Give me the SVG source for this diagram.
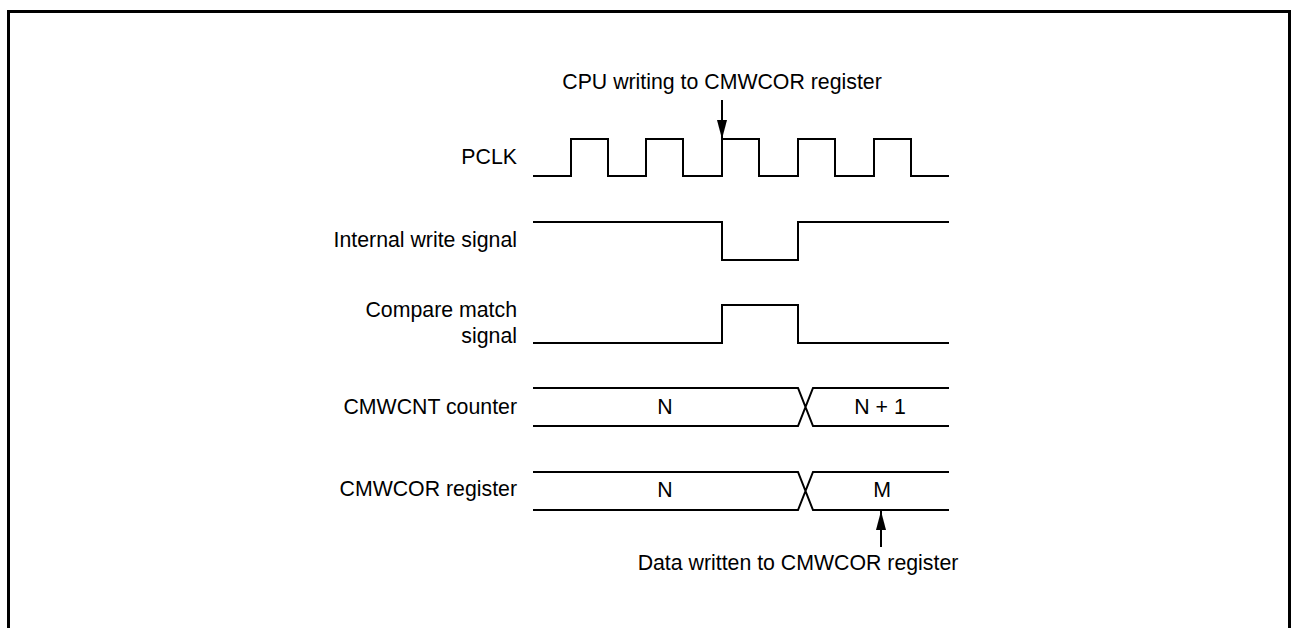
<svg xmlns="http://www.w3.org/2000/svg" width="1291" height="628" viewBox="0 0 1291 628">
<style>
.w{fill:none;stroke:#000;stroke-width:2;stroke-linejoin:miter;stroke-linecap:butt}
.b{fill:none;stroke:#000;stroke-width:3}
text{font-family:"Liberation Sans",Arial,sans-serif;font-size:21.3px;fill:#000}
.r{text-anchor:end}
.m{text-anchor:middle}
</style>
<defs>
<marker id="ah" viewBox="0 0 19 10" refX="19" refY="5" markerWidth="19" markerHeight="10" markerUnits="userSpaceOnUse" orient="auto">
<path d="M0,0 L19,5 L0,10 Z" fill="#000"/>
</marker>
</defs>
<rect x="0" y="0" width="1291" height="628" fill="#fff"/>
<path class="b" d="M8.5,628 V11.5 H1289.5 V628"/>
<g id="pclk">
<text class="r" x="517" y="164">PCLK</text>
<path class="w" d="M533,176 H571 V139 H608 V176 H646 V139 H683 V176 H722 V139 H759 V176 H798 V139 H835 V176 H874 V139 H911 V176 H949"/>
</g>
<g id="internal-write">
<text class="r" x="517" y="247">Internal write signal</text>
<path class="w" d="M533,222 H722 V260 H798 V222 H949"/>
</g>
<g id="compare-match">
<text class="r" x="517" y="317">Compare match</text>
<text class="r" x="517" y="343">signal</text>
<path class="w" d="M533,343 H722 V305 H798 V343 H949"/>
</g>
<g id="cmwcnt">
<text class="r" x="517" y="414">CMWCNT counter</text>
<path class="w" d="M533,388 H798 L813,426 H949 M533,426 H798 L813,388 H949"/>
<text class="m" x="665" y="414">N</text>
<text class="m" x="880" y="414">N + 1</text>
</g>
<g id="cmwcor">
<text class="r" x="517" y="496">CMWCOR register</text>
<path class="w" d="M533,472 H798 L813,510 H949 M533,510 H798 L813,472 H949"/>
<text class="m" x="665" y="497">N</text>
<text class="m" x="882" y="497">M</text>
</g>
<g id="labels">
<text class="m" x="722" y="89">CPU writing to CMWCOR register</text>
<text class="m" x="798" y="570">Data written to CMWCOR register</text>
</g>
<g id="connectors">
<line class="w" x1="722" y1="100" x2="722" y2="139" stroke-width="1.5" marker-end="url(#ah)"/>
<line class="w" x1="881" y1="547" x2="881" y2="511" stroke-width="1.5" marker-end="url(#ah)"/>
</g>
</svg>
